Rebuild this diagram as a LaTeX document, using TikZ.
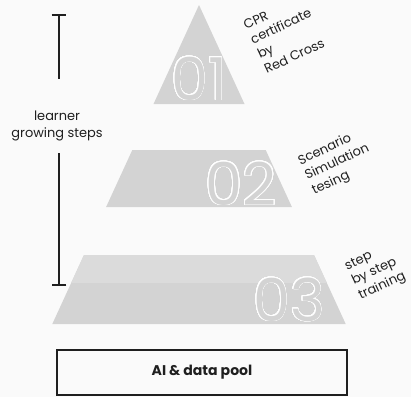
\documentclass[tikz,border=0pt]{standalone}
\usepackage{fontspec}
\setmainfont{Poppins}
\usepackage{xcolor}
\usepackage{contour}
\usetikzlibrary{arrows.meta,positioning}
\definecolor{bggray}{HTML}{FAFAFA}
\definecolor{pyrgray}{HTML}{D3D3D3}
\definecolor{bandgray}{HTML}{DBDBDB}
\definecolor{inkgray}{HTML}{1F1F1F}
\contourlength{0.55pt}
\contournumber{32}

\newcommand{\levelno}[1]{\contour{white}{\textcolor{pyrgray}{#1}}}

\tikzset{
  steptext/.style={font=\fontsize{9.2}{11.6}\selectfont, text=inkgray, align=left,
                   rotate=25, anchor=north west, inner sep=0pt},
  levelnum/.style={font=\fontsize{42}{42}\selectfont, anchor=base, inner sep=0pt},
  bracket/.style={inkgray, line width=1.1pt},
}

\begin{document}
\begin{tikzpicture}[x=0.025cm,y=-0.025cm]

  \path[use as bounding box, fill=bggray] (0,0) rectangle (411,397);
  \clip (0,0) rectangle (411,397);

  % level 01 (top)
  \begin{scope}
    \clip (199,5) -- (244.5,104) -- (153.5,104) -- cycle;
    \fill[pyrgray] (0,0) rectangle (411,397);
    \node[levelnum] (num01) at (199,100) {\levelno{01}};
  \end{scope}

  % level 02
  \begin{scope}
    \clip (132.3,150) -- (265.7,150) -- (291.9,207) -- (106.1,207) -- cycle;
    \fill[pyrgray] (0,0) rectangle (411,397);
    \node[levelnum] (num02) at (241,205) {\levelno{02}};
  \end{scope}

  % level 03 (bottom)
  \begin{scope}
    \clip (84,255) -- (314,255) -- (345.7,324) -- (52.3,324) -- cycle;
    \fill[pyrgray] (0,0) rectangle (411,397);
    \fill[bandgray] (0,255) rectangle (411,283);
    \node[levelnum] (num03) at (289,321) {\levelno{03}};
  \end{scope}

  % labels
  \node[steptext] (lbl01) at (242,21)  {CPR\\certificate\\by\\Red Cross};
  \node[steptext] (lbl02) at (296,156) {Scenario\\Simulation\\tesing};
  \node[steptext] (lbl03) at (343,262) {step\\by step\\training};

  % learner bracket
  \node[font=\fontsize{9.2}{11.8}\selectfont, text=inkgray, align=center] (growth) at (57,126)
       {learner\\growing steps};
  \coordinate (brtop)    at (59,14);
  \coordinate (brtopend) at (59,79);
  \coordinate (brbotbeg) at (59,153);
  \coordinate (brbot)    at (59,286);
  \draw[bracket, {Bar[width=10.5pt]}-] (brtop) -- (brtopend);
  \draw[bracket, -{Bar[width=10.5pt]}] (brbotbeg) -- (brbot);

  % base box
  \node[draw=inkgray, line width=1.7pt, minimum width=7.25cm, minimum height=1.125cm,
        font=\fontsize{10}{12}\selectfont\bfseries, text=inkgray] (pool) at (202,372.5)
       {AI \& data pool};

\end{tikzpicture}
\end{document}
